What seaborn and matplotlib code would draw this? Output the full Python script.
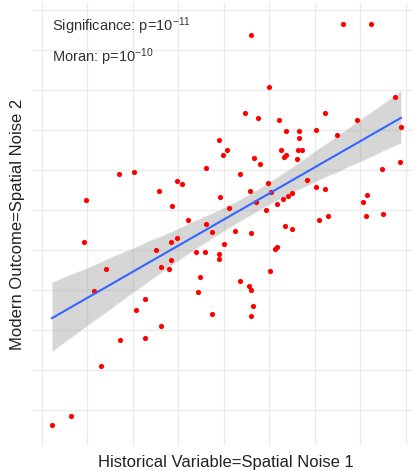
import numpy as np
import pandas as pd
import seaborn as sns
import matplotlib.pyplot as plt

# Values (arbitrary units, grid every 10)
hist_var = [46.0, 66.2, 72.3, 50.0, 44.7, 47.5, 52.2, 62.3, 69.2, 77.6,
            79.0, 53.7, 56.6, 56.6, 60.3, 65.0, 39.0, 40.8, 52.5, 56.4,
            57.1, 39.8, 53.3, 53.7, 56.0, 46.7, 48.0, 78.7, 74.7, 17.1,
            20.3, 36.0, 43.5, 29.7, 30.8, 25.8, 9.7, 28.6, 39.1, 45.7,
            49.7, 50.5, 58.3, 60.3, 62.3, 53.1, 54.2, 55.0, 51.7, 47.1,
            49.3, 41.1, 71.5, 70.7, 71.2, 74.9, 60.9, 62.9, 32.1, 36.0,
            37.4, 42.5, 46.0, 53.5, 55.0, 9.3, 29.8, 28.5, 40.0, 25.1,
            34.0, 35.8, 39.0, 39.0, 51.3, 51.8, 26.2, 28.0, 28.4, 14.1,
            50.1, 34.7, 43.5, 45.5, 46.1, 11.4, 34.4, 46.5, 46.0, 37.5,
            22.7, 20.7, 26.3, 17.2, 22.6, 13.0, 6.5, 2.2]
modern_out = [103.8, 106.4, 106.4, 90.8, 84.2, 83.0, 82.5, 84.2, 82.5, 88.2,
              80.7, 79.8, 79.8, 78.1, 80.0, 78.8, 77.6, 75.1, 75.1, 75.0,
              75.1, 73.8, 73.2, 73.7, 72.8, 72.9, 71.5, 72.0, 70.2, 69.0,
              69.4, 70.4, 69.1, 67.2, 66.6, 64.8, 62.5, 61.1, 63.3, 64.8,
              66.7, 64.4, 67.4, 65.7, 65.2, 62.7, 63.5, 64.2, 61.6, 62.0,
              60.0, 60.4, 63.8, 62.0, 58.4, 58.9, 57.4, 58.6, 57.5, 56.6,
              54.6, 54.8, 54.2, 56.1, 55.2, 52.0, 52.9, 51.9, 51.4, 49.9,
              49.6, 49.6, 49.0, 47.8, 50.2, 50.8, 45.8, 45.3, 47.5, 45.3,
              44.8, 43.3, 42.2, 41.1, 39.9, 39.8, 39.6, 36.1, 33.6, 34.1,
              37.8, 35.1, 31.0, 27.5, 28.1, 20.9, 8.5, 6.2]

sig_text = "Significance: p=$10^{-11}$"
moran_text = "Moran: p=$10^{-10}$"

df = pd.DataFrame({"x": hist_var, "y": modern_out})

sns.set_style("whitegrid")
plt.rcParams['font.family'] = ['Liberation Sans', 'DejaVu Sans']
plt.rcParams['mathtext.fontset'] = 'custom'
plt.rcParams['mathtext.rm'] = 'Liberation Sans'
plt.rcParams['mathtext.it'] = 'Liberation Sans'

fig = plt.figure(figsize=(4.13, 4.71), dpi=100)
ax = fig.add_axes([0.08, 0.055, 0.92, 0.939])

sns.regplot(data=df, x="x", y="y", ax=ax, ci=95, seed=0,
            scatter_kws={"color": "#ff0000", "s": 14, "linewidths": 0, "alpha": 1, "zorder": 3},
            line_kws={"color": "#3366ff", "lw": 1.5, "zorder": 4})
# ggplot-like grey band
for coll in ax.collections[1:]:
    coll.set_facecolor("#999999")
    coll.set_alpha(0.4)

ax.set_xlim(-1.9, 81.6)
ax.set_ylim(1.25, 111.75)
ax.set_xticks(np.arange(0, 81, 10))
ax.set_yticks(np.arange(10, 111, 10))
ax.set_xticklabels([])
ax.set_yticklabels([])
ax.tick_params(length=0)
ax.grid(True, color="#ebebeb", lw=1.0)
for s in ax.spines.values():
    s.set_visible(False)

ax.set_xlabel("")
ax.set_ylabel("")
fig.text(0.547, 0.019, "Historical Variable=Spatial Noise 1", ha="center", va="center",
         fontsize=12, color="#222222")
fig.text(0.043, 0.524, "Modern Outcome=Spatial Noise 2", ha="center", va="center",
         rotation=90, fontsize=12, color="#222222")

ax.text(0.05, 0.948, sig_text, transform=ax.transAxes, fontsize=10.5, color="#333333",
        va="center", ha="left")
ax.text(0.05, 0.876, moran_text, transform=ax.transAxes, fontsize=10.5, color="#333333",
        va="center", ha="left")

fig.savefig("out.png", dpi=100)
